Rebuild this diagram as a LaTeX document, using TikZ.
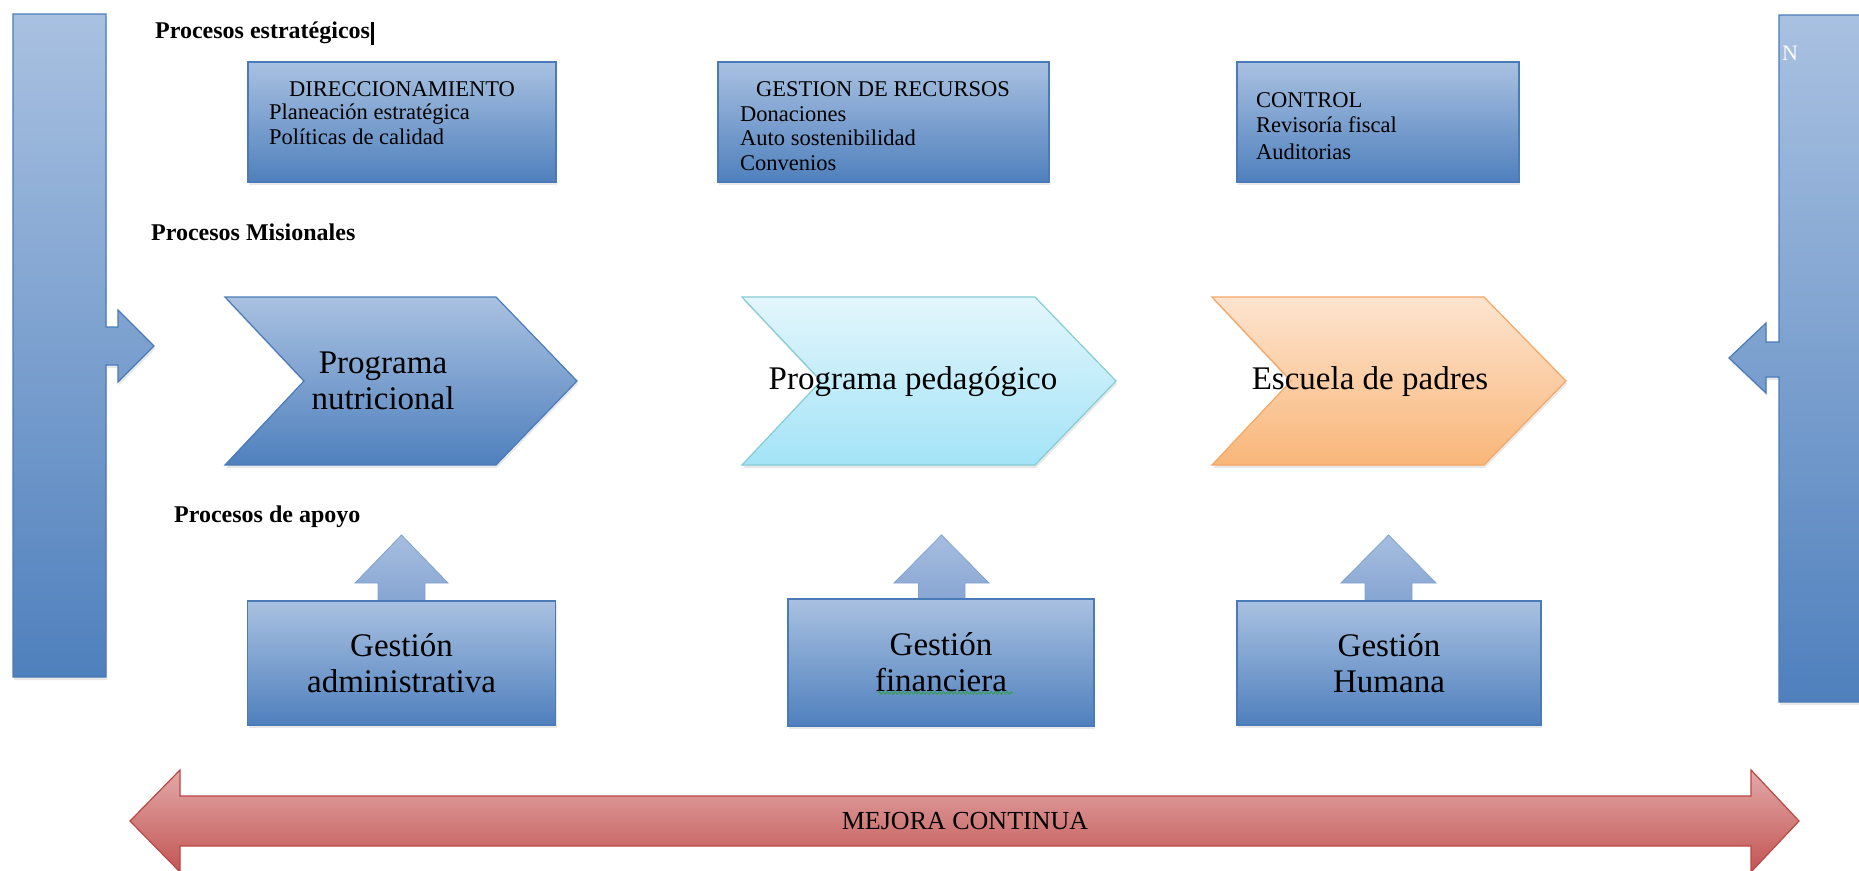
\documentclass[tikz,border=0pt]{standalone}
\usepackage{fontspec}
\setmainfont{Liberation Serif}
\usetikzlibrary{decorations.pathmorphing,shadows}
\definecolor{bTop}{HTML}{A9C1E1}
\definecolor{bBot}{HTML}{4F80BD}
\definecolor{bLine}{HTML}{4A7BB8}
\definecolor{aTop}{HTML}{A7BEE0}
\definecolor{aBot}{HTML}{86A5D2}
\definecolor{cTop}{HTML}{E3F6FC}
\definecolor{cBot}{HTML}{A3E3F7}
\definecolor{cLine}{HTML}{86CCD2}
\definecolor{oTop}{HTML}{FDE4CF}
\definecolor{oBot}{HTML}{F9B679}
\definecolor{oLine}{HTML}{F5A664}
\definecolor{rTop}{HTML}{E2A9A8}
\definecolor{rBot}{HTML}{C25553}
\definecolor{rLine}{HTML}{BA4845}
\definecolor{spell}{HTML}{2EA043}
\begin{document}
\begin{tikzpicture}[x=1pt,y=-1pt,
  shad/.style={drop shadow={shadow xshift=1pt, shadow yshift=-3pt, opacity=0.18}},
  bluefill/.style={top color=bTop, bottom color=bBot, draw=bLine, line width=1.2pt},
  arrowfill/.style={top color=aTop, bottom color=aBot, draw=bLine!70, line width=0.8pt},
  bluebox/.style={bluefill, shad, rectangle, inner sep=0pt, align=center, font=\fontsize{33}{36}\selectfont},
  cyanfill/.style={top color=cTop, bottom color=cBot, draw=cLine, line width=1.2pt},
  orangefill/.style={top color=oTop, bottom color=oBot, draw=oLine, line width=1.2pt},
  redfill/.style={top color=rTop, bottom color=rBot, draw=rLine, line width=1.2pt},
  lbl/.style={inner sep=0pt, anchor=west, font=\bfseries\fontsize{24}{26}\selectfont},
  hdr/.style={inner sep=0pt, font=\fontsize{22.5}{24}\selectfont},
  line/.style={hdr, anchor=west},
  big/.style={inner sep=0pt, align=center, font=\fontsize{33}{36}\selectfont}
]
\useasboundingbox[fill=white] (0,0) rectangle (1859,870);

% side bars with arrows
\draw[bluefill, shad] (13,14) -- (106,14) -- (106,327) -- (118,327) -- (118,310) -- (154,346)
  -- (118,382) -- (118,365) -- (106,365) -- (106,677) -- (13,677) -- cycle;
\draw[bluefill, shad] (1779,15) -- (1862,15) -- (1862,702) -- (1779,702) -- (1779,377) -- (1766,377)
  -- (1766,393) -- (1729,358) -- (1766,323) -- (1766,342) -- (1779,342) -- cycle;
\node[inner sep=0pt, anchor=west, text=white, font=\fontsize{22}{22}\selectfont] (nl) at (1782,53) {N};

% section labels
\node[lbl] (pe) at (155,33) {Procesos estratégicos};
\fill[black] ([xshift=1pt]pe.east |- 0,22) rectangle ([xshift=4pt]pe.east |- 0,45);
\node[lbl] (pm) at (151,232) {Procesos Misionales};
\node[lbl] (pa) at (174,517) {Procesos de apoyo};

% strategic boxes
\node[bluebox, minimum width=308pt, minimum height=120pt] (dir) at (402,122) {};
\node[hdr] (dirh) at (402,89) {DIRECCIONAMIENTO};
\node[line] (dir1) at (269,114) {Planeación estratégica};
\node[line] (dir2) at (269,137) {Políticas de calidad};

\node[bluebox, minimum width=331pt, minimum height=120pt] (rec) at (883.5,122) {};
\node[hdr] (rech) at (883,89) {GESTION DE RECURSOS};
\node[line] (rec1) at (740,114) {Donaciones};
\node[line] (rec2) at (740,138) {Auto sostenibilidad};
\node[line] (rec3) at (740,163) {Convenios};

\node[bluebox, minimum width=282pt, minimum height=120pt] (ctl) at (1378,122) {};
\node[line] (ctlh) at (1256,100) {CONTROL};
\node[line] (ctl1) at (1256,125) {Revisoría fiscal};
\node[line] (ctl2) at (1256,152) {Auditorias};

% mission chevrons
\draw[bluefill, shad] (225,297) -- (496,297) -- (577,381) -- (496,465) -- (225,465) -- (304,381) -- cycle;
\node[big] (nut) at (383,380.5) {Programa\\nutricional};
\draw[cyanfill, shad] (742,297) -- (1035,297) -- (1116,381) -- (1035,465) -- (742,465) -- (821,381) -- cycle;
\node[big] (ped) at (913,382) {Programa pedagógico};
\draw[orangefill, shad] (1212,297) -- (1484,297) -- (1566,381) -- (1484,465) -- (1212,465) -- (1291,381) -- cycle;
\node[big] (esc) at (1370,382) {Escuela de padres};

% support arrows
\draw[arrowfill] (378,601) -- (378,583) -- (355,583) -- (401.5,535) -- (448,583) -- (425,583) -- (425,601) -- cycle;
\draw[arrowfill] (918.5,601) -- (918.5,583) -- (894,583) -- (941.5,535) -- (989,583) -- (965,583) -- (965,601) -- cycle;
\draw[arrowfill] (1365,601) -- (1365,583) -- (1341,583) -- (1388.5,535) -- (1436,583) -- (1412,583) -- (1412,601) -- cycle;

% support boxes
\node[bluebox, minimum width=308pt, minimum height=124pt] (adm) at (401.5,663) {Gestión\\administrativa};
\node[bluebox, minimum width=306pt, minimum height=127pt] (fin) at (941,662.5) {Gestión\\financiera};
\node[bluebox, minimum width=304pt, minimum height=124pt] (hum) at (1389,663) {Gestión\\Humana};
\coordinate (w1) at (878,693);
\coordinate (w2) at (1013,693);
\draw[spell, line width=0.8pt, decorate, decoration={snake, amplitude=1.3pt, segment length=4pt}] (w1) -- (w2);

% continuous improvement arrow
\draw[redfill] (130,821) -- (180,770) -- (180,796) -- (1751,796) -- (1751,770) -- (1799,821)
  -- (1751,872) -- (1751,846) -- (180,846) -- (180,872) -- cycle;
\node[inner sep=0pt, font=\fontsize{26}{28}\selectfont] (mej) at (965,821) {MEJORA CONTINUA};
\end{tikzpicture}
\end{document}
